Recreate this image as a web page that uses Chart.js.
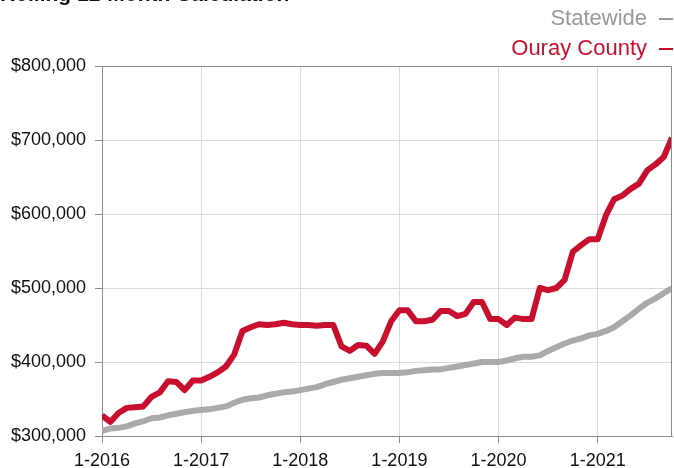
<!DOCTYPE html>
<html>
<head>
<meta charset="utf-8">
<script src="https://cdn.jsdelivr.net/npm/chart.js@4.4.1/dist/chart.umd.min.js"></script>
<style>
  html, body { margin: 0; padding: 0; background: #fff; overflow: hidden; }
  #wrap { position: relative; width: 674px; height: 468px; font-family: "Liberation Sans", Arial, Helvetica, sans-serif; }
  #chart { position: absolute; left: 0; top: 0; }
  .title { position: absolute; left: 0; top: -17px; font-size: 21px; font-weight: bold; color: #111; line-height: 21px; white-space: nowrap; }
  .legend { position: absolute; right: 1px; font-size: 22px; line-height: 24px; white-space: nowrap; }
  .legend span.dash { display: inline-block; width: 14px; height: 2px; margin-left: 12px; vertical-align: middle; }
</style>
</head>
<body>
<div id="wrap">
  <canvas id="chart" width="674" height="468"></canvas>
  <div class="title">Rolling 12-Month Calculation</div>
  <div class="legend" style="top:6px;color:#999999">Statewide<span class="dash" style="background:#999999"></span></div>
  <div class="legend" style="top:36px;color:#c8102e">Ouray County<span class="dash" style="background:#c8102e"></span></div>
</div>
<script>
// 月份标签: 1-2016 ... 10-2021
const yearTicks = ['1-2016', '1-2017', '1-2018', '1-2019', '1-2020', '1-2021'];

// Ouray County 中位价 (千美元)
const ouray = [
  328, 319, 331, 338, 339, 340, 353, 359, 374, 373, 362, 375,
  375, 380, 386, 394, 410, 442, 447, 451, 450, 451, 453, 451,
  450, 450, 449, 450, 450, 421, 415, 423, 422, 411, 428, 455,
  470, 470, 455, 455, 457, 469, 469, 462, 465, 481, 481, 458,
  458, 450, 460, 458, 458, 500, 497, 500, 511, 549, 558, 566,
  566, 598, 620, 625, 634, 641, 659, 667, 677, 703
];

// Statewide 中位价 (千美元)
const statewide = [
  307, 310, 311, 313, 317, 320, 324, 325, 328, 330, 332, 334,
  335, 336, 338, 340, 345, 349, 351, 352, 355, 357, 359, 360,
  362, 364, 366, 370, 373, 376, 378, 380, 382, 384, 385, 385,
  385, 386, 388, 389, 390, 390, 392, 394, 396, 398, 400, 400,
  400, 402, 405, 407, 407, 409, 415, 420, 425, 429, 432, 436,
  438, 442, 447, 455, 463, 472, 480, 486, 493, 500
];

const yMin = 300000, yMax = 800000, yStep = 100000;

const toPoints = arr => arr.map((v, i) => ({ x: i, y: v * 1000 }));

// 图表区域上、右边框
const frame = {
  id: 'frame',
  afterDraw(chart) {
    const { ctx, chartArea: a } = chart;
    ctx.save();
    ctx.strokeStyle = '#8c8c8c';
    ctx.lineWidth = 1;
    ctx.beginPath();
    ctx.moveTo(a.left, a.top + 0.5);
    ctx.lineTo(a.right - 0.5, a.top + 0.5);
    ctx.lineTo(a.right - 0.5, a.bottom);
    ctx.stroke();
    ctx.restore();
  }
};

const font = { family: '"Liberation Sans", Arial, Helvetica, sans-serif', size: 18 };

new Chart(document.getElementById('chart'), {
  type: 'line',
  data: {
    datasets: [
      {
        label: 'Ouray County',
        data: toPoints(ouray),
        borderColor: '#c8102e',
        borderWidth: 6,
        pointRadius: 0,
        tension: 0,
        borderJoinStyle: 'round'
      },
      {
        label: 'Statewide',
        data: toPoints(statewide),
        borderColor: '#aaaaaa',
        borderWidth: 6,
        pointRadius: 0,
        tension: 0,
        borderJoinStyle: 'round'
      }
    ]
  },
  options: {
    responsive: false,
    devicePixelRatio: 1,
    animation: false,
    layout: { padding: { top: 66, right: 2, left: 0, bottom: 0 } },
    plugins: { legend: { display: false }, tooltip: { enabled: false } },
    scales: {
      x: {
        type: 'linear',
        min: 0,
        max: ouray.length - 1,
        afterBuildTicks: s => { s.ticks = s.ticks.filter(t => t.value % 12 === 0); },
        afterFit: s => { s.height = 32; },
        ticks: {
          stepSize: 12,
          autoSkip: false,
          maxRotation: 0,
          padding: 7,
          color: '#111',
          font,
          callback: v => yearTicks[v / 12]
        },
        grid: { color: '#dadada', tickColor: '#8c8c8c', tickLength: 7 },
        border: { color: '#8c8c8c' }
      },
      y: {
        min: yMin,
        max: yMax,
        afterFit: s => { s.width = 102; },
        ticks: {
          stepSize: yStep,
          padding: 9,
          color: '#111',
          font,
          callback: v => '$' + v.toLocaleString('en-US')
        },
        grid: { color: '#dadada', tickColor: '#8c8c8c', tickLength: 7 },
        border: { color: '#8c8c8c' }
      }
    }
  },
  plugins: [frame]
});
</script>
</body>
</html>
